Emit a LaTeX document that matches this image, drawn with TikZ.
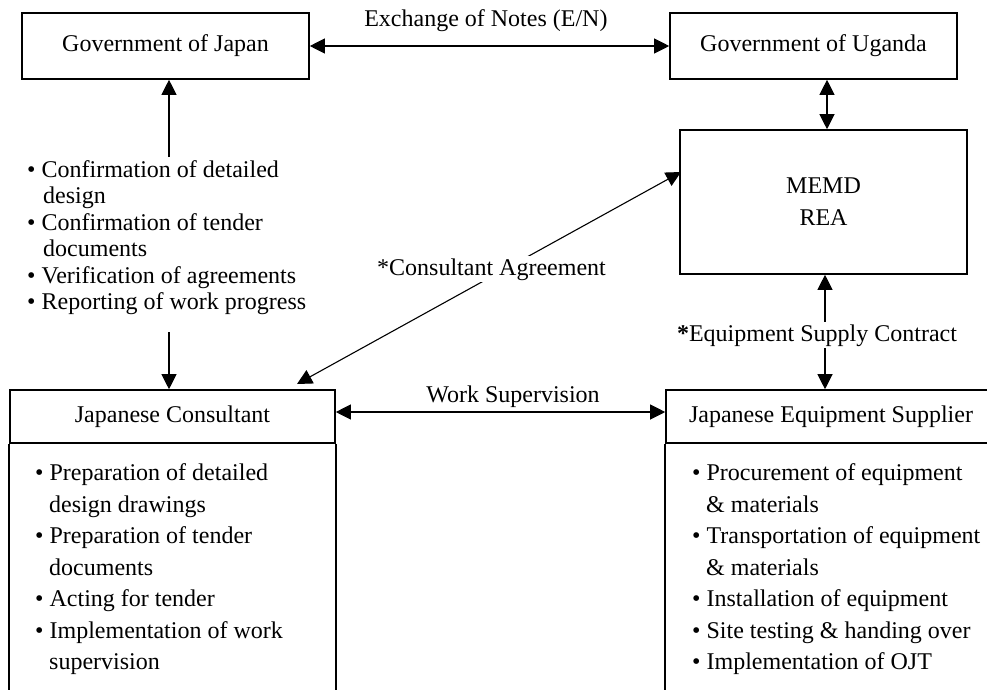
\documentclass[tikz,border=0pt]{standalone}
\usepackage{fontspec}
\setmainfont{Liberation Serif}
\usetikzlibrary{arrows.meta}
\begin{document}
\begin{tikzpicture}[x=1pt,y=-1pt,
  box/.style={draw, line width=1.6pt, inner sep=0pt, font=\fontsize{24}{32}\selectfont, align=center},
  arr/.style={line width=1.1pt, -{Triangle[length=15pt,width=15pt]}},
  darr/.style={line width=1.1pt, {Triangle[length=15pt,width=15pt]}-{Triangle[length=15pt,width=15pt]}},
  txt/.style={inner sep=0pt, anchor=base west, font=\fontsize{24}{28}\selectfont},
  lbl/.style={inner sep=1pt, anchor=base, font=\fontsize{24}{28}\selectfont},
  wlbl/.style={lbl, fill=white, inner sep=2pt}]
\clip (0,0) rectangle (987,689);
\fill[white] (0,0) rectangle (987,689);

% boxes
\node[box, minimum width=287pt, minimum height=66pt] (gj) at (165.5,46) {Government of Japan};
\node[box, minimum width=287pt, minimum height=66pt] (gu) at (813.5,46) {Government of Uganda};
\node[box, minimum width=287pt, minimum height=144pt] (memd) at (823.5,202) {MEMD\\REA};
\node[box, minimum width=325pt, minimum height=53pt] (jc) at (172.5,416.5) {Japanese Consultant};
\node[box, minimum width=330pt, minimum height=53pt] (jes) at (831,416.5) {Japanese Equipment Supplier};
\draw[line width=1.6pt] (jc.south west) -- ++(0,260);
\draw[line width=1.6pt] (jc.south east) -- ++(0,260);
\draw[line width=1.6pt] (jes.south west) -- ++(0,260);

% E/N
\draw[darr] (gj.east) -- node[lbl, pos=0.49, yshift=20pt] (en) {Exchange of Notes (E/N)} (gu.west);
% Uganda - MEMD
\draw[darr] (gu.south -| 827,0) -- (memd.north -| 827,0);
% Japan up / down
\coordinate (upst) at (169,157);
\coordinate (dnst) at (169,332);
\draw[arr] (upst) -- (gj.south -| upst);
\draw[arr] (dnst) -- (jc.north -| dnst);
% Consultant agreement
\coordinate (ca1) at (297,384);
\coordinate (ca2) at (681,172);
\draw[darr] (ca1) -- (ca2);
\node[wlbl] (cal) at (491.5,275) {*Consultant Agreement};
% Equipment supply
\draw[darr] (memd.south -| 825,0) -- (jes.north -| 825,0);
\node[wlbl] (esl) at (817,341) {\textbf{*}Equipment Supply Contract};
% Work supervision
\draw[darr] (jc.east |- 0,412) -- (jes.west |- 0,412);
\node[lbl] (wsl) at (513,402) {Work Supervision};

% top list
\node[txt] (t1) at (27,177) {• Confirmation of detailed};
\node[txt] (t2) at (43,203.5) {design};
\node[txt] (t3) at (27,230) {• Confirmation of tender};
\node[txt] (t4) at (43,256.5) {documents};
\node[txt] (t5) at (27,283) {• Verification of agreements};
\node[txt] (t6) at (27,309.5) {• Reporting of work progress};

% consultant list
\node[txt] (l1) at (35,480) {• Preparation of detailed};
\node[txt] (l2) at (49,512) {design drawings};
\node[txt] (l3) at (35,543) {• Preparation of tender};
\node[txt] (l4) at (49,575) {documents};
\node[txt] (l5) at (35,606) {• Acting for tender};
\node[txt] (l6) at (35,638) {• Implementation of work};
\node[txt] (l7) at (49,669) {supervision};

% supplier list
\node[txt] (r1) at (692,480) {• Procurement of equipment};
\node[txt] (r2) at (706,512) {\& materials};
\node[txt] (r3) at (692,543) {• Transportation of equipment};
\node[txt] (r4) at (706,575) {\& materials};
\node[txt] (r5) at (692,606) {• Installation of equipment};
\node[txt] (r6) at (692,638) {• Site testing \& handing over};
\node[txt] (r7) at (692,669) {• Implementation of OJT};
\end{tikzpicture}
\end{document}
